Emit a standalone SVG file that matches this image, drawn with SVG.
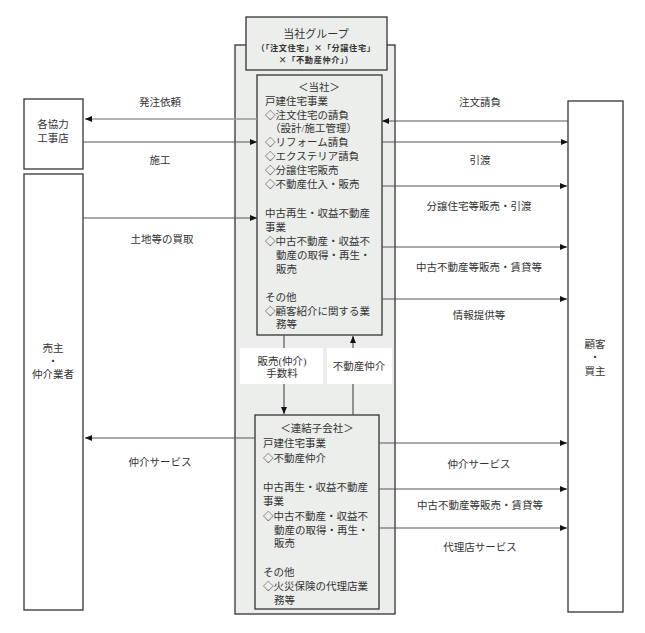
<svg xmlns="http://www.w3.org/2000/svg" width="645" height="633" viewBox="0 0 645 633">
<style>
text{font-family:"Liberation Serif","Noto Sans CJK JP",serif;font-size:10.5px;fill:#333;dominant-baseline:central}
.c{text-anchor:middle}
.box{fill:#fff;stroke:#333;stroke-width:1.3}
.gbox{fill:#eceeec;stroke:#333;stroke-width:1.3}
.ln{stroke:#555;stroke-width:1.2;fill:none}
.lt{stroke:#999;stroke-width:1.6;fill:none}
.lbl{fill:#fff;stroke:none}
.t{font-size:11px}
.s{font-size:8.2px;font-weight:bold;letter-spacing:0.6px;font-family:"Noto Sans CJK JP",sans-serif}
</style>
<defs>
<marker id="ah" markerWidth="8" markerHeight="8" refX="7" refY="4" orient="auto" markerUnits="userSpaceOnUse">
<path d="M0,1 L7,4 L0,7 Z" fill="#111"/>
</marker>
</defs>
<rect width="645" height="633" fill="#fff"/>

<g id="group">
<rect class="gbox" x="235" y="45" width="160" height="569"/>
</g>
<g id="title">
<rect class="gbox" x="246" y="17" width="141" height="53"/>
<text class="c t" x="316" y="34">当社グループ</text>
<text class="c s" x="316" y="46.5">（「注文住宅」×「分譲住宅」</text>
<text class="c s" x="316" y="59">×「不動産仲介」）</text>
</g>

<g id="company">
<rect class="gbox" x="257" y="75" width="125" height="260"/>
<text class="c" x="319" y="87">＜当社＞</text>
<text x="265" y="101">戸建住宅事業</text>
<text x="265" y="115">◇注文住宅の請負</text>
<text x="270" y="128">（設計/施工管理）</text>
<text x="265" y="142">◇リフォーム請負</text>
<text x="265" y="156">◇エクステリア請負</text>
<text x="265" y="170">◇分譲住宅販売</text>
<text x="265" y="184">◇不動産仕入・販売</text>
<text x="265" y="213">中古再生・収益不動産</text>
<text x="265" y="227">事業</text>
<text x="265" y="241">◇中古不動産・収益不</text>
<text x="276" y="255">動産の取得・再生・</text>
<text x="276" y="269">販売</text>
<text x="265" y="297">その他</text>
<text x="265" y="311">◇顧客紹介に関する業</text>
<text x="276" y="324">務等</text>
</g>

<g id="subsidiary">
<rect class="gbox" x="255" y="415" width="124" height="194"/>
<text class="c" x="317" y="428">＜連結子会社＞</text>
<text x="263" y="443">戸建住宅事業</text>
<text x="263" y="458">◇不動産仲介</text>
<text x="263" y="487">中古再生・収益不動産</text>
<text x="263" y="501">事業</text>
<text x="263" y="516">◇中古不動産・収益不</text>
<text x="274" y="530">動産の取得・再生・</text>
<text x="274" y="543">販売</text>
<text x="263" y="572">その他</text>
<text x="263" y="586">◇火災保険の代理店業</text>
<text x="274" y="600">務等</text>
</g>

<g id="contractors">
<rect class="box" x="24" y="99" width="59" height="70"/>
<text class="c" x="53" y="124">各協力</text>
<text class="c" x="53" y="138">工事店</text>
</g>
<g id="sellers">
<rect class="box" x="24" y="174" width="59" height="436"/>
<text class="c" x="53" y="348">売主</text>
<text class="c" x="53" y="361">・</text>
<text class="c" x="53" y="374">仲介業者</text>
</g>
<g id="customers">
<rect class="box" x="568" y="101" width="55" height="511"/>
<text class="c" x="595" y="344">顧客</text>
<text class="c" x="595" y="357">・</text>
<text class="c" x="595" y="371">買主</text>
</g>

<g id="connectors">
<line class="lt" x1="257" y1="119" x2="85" y2="119" marker-end="url(#ah)"/>
<text class="c" x="160" y="102">発注依頼</text>
<line class="ln" x1="83" y1="142" x2="257" y2="142" marker-end="url(#ah)"/>
<text class="c" x="160" y="160">施工</text>
<line class="ln" x1="83" y1="218" x2="257" y2="218" marker-end="url(#ah)"/>
<text class="c" x="162" y="239">土地等の買取</text>
<line class="ln" x1="255" y1="438" x2="85" y2="438" marker-end="url(#ah)"/>
<text class="c" x="160" y="462">仲介サービス</text>

<line class="ln" x1="568" y1="121" x2="382" y2="121" marker-end="url(#ah)"/>
<text class="c" x="480" y="102">注文請負</text>
<line class="ln" x1="382" y1="142" x2="568" y2="142" marker-end="url(#ah)"/>
<text class="c" x="480" y="160">引渡</text>
<line class="ln" x1="382" y1="186" x2="567" y2="186" marker-end="url(#ah)"/>
<text class="c" x="479" y="206">分譲住宅等販売・引渡</text>
<line class="ln" x1="382" y1="247" x2="567" y2="247" marker-end="url(#ah)"/>
<text class="c" x="479" y="267">中古不動産等販売・賃貸等</text>
<line class="ln" x1="382" y1="299" x2="567" y2="299" marker-end="url(#ah)"/>
<text class="c" x="479" y="315">情報提供等</text>

<line class="ln" x1="379" y1="443" x2="567" y2="443" marker-end="url(#ah)"/>
<text class="c" x="479" y="464">仲介サービス</text>
<line class="ln" x1="379" y1="489" x2="567" y2="489" marker-end="url(#ah)"/>
<text class="c" x="480" y="505">中古不動産等販売・賃貸等</text>
<line class="ln" x1="379" y1="528" x2="567" y2="528" marker-end="url(#ah)"/>
<text class="c" x="480" y="547">代理店サービス</text>

<line class="ln" x1="284" y1="335" x2="284" y2="414" marker-end="url(#ah)"/>
<rect class="lbl" x="240" y="348" width="83" height="36"/>
<text class="c" x="282" y="361">販売(仲介)</text>
<text class="c" x="282" y="373">手数料</text>
<line class="ln" x1="353" y1="415" x2="353" y2="336" marker-end="url(#ah)"/>
<rect class="lbl" x="327" y="348" width="65" height="36"/>
<text class="c" x="359" y="366">不動産仲介</text>
</g>
</svg>
